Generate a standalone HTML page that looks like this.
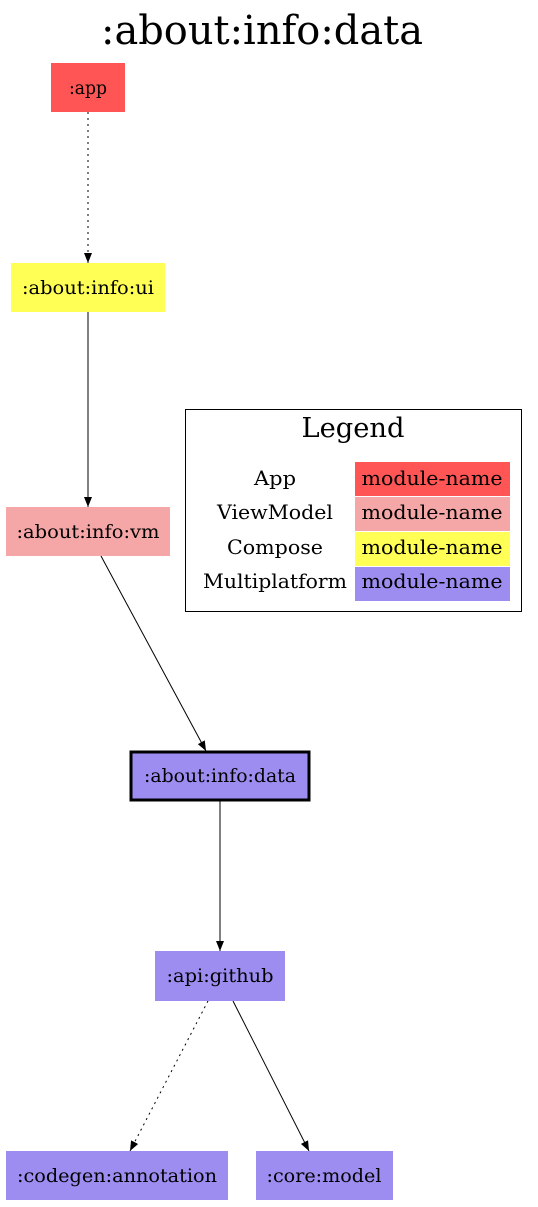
<!DOCTYPE html>
<html><head><meta charset="utf-8"><style>html,body{margin:0;padding:0;background:#fff}svg{display:block}</style></head>
<body>
<svg width="538" height="1207" viewBox="0 0 538 1207" xmlns="http://www.w3.org/2000/svg" font-family="DejaVu Serif, Liberation Serif, serif">
<defs><marker id="a" markerWidth="10" markerHeight="8" refX="10" refY="4" orient="auto" markerUnits="userSpaceOnUse"><path d="M0,0 L10,4 L0,8 z" fill="#000"/></marker></defs>
<text x="262" y="44" font-size="40" text-anchor="middle" textLength="322" lengthAdjust="spacingAndGlyphs">:about:info:data</text>

<line x1="88" y1="112" x2="88" y2="263" stroke="#000" stroke-dasharray="2,4" marker-end="url(#a)"/>
<line x1="88" y1="312" x2="88" y2="507" stroke="#000" marker-end="url(#a)"/>
<line x1="101" y1="556" x2="206" y2="751" stroke="#000" marker-end="url(#a)"/>
<line x1="220" y1="801" x2="220" y2="951" stroke="#000" marker-end="url(#a)"/>
<line x1="208" y1="1001" x2="130" y2="1151" stroke="#000" stroke-dasharray="2,4" marker-end="url(#a)"/>
<line x1="233" y1="1001" x2="309" y2="1151" stroke="#000" marker-end="url(#a)"/>

<g font-size="18.5" text-anchor="middle">
<rect x="51" y="63" width="74" height="49" fill="#FF5555"/><text x="88" y="94" textLength="38" lengthAdjust="spacingAndGlyphs">:app</text>
<rect x="11" y="263" width="154" height="49" fill="#FFFF55"/><text x="88" y="294" textLength="132" lengthAdjust="spacingAndGlyphs">:about:info:ui</text>
<rect x="6" y="507" width="164" height="49" fill="#F5A6A6"/><text x="88" y="538" textLength="143" lengthAdjust="spacingAndGlyphs">:about:info:vm</text>
<rect x="131" y="752" width="178" height="48" fill="#9D8DF1" stroke="#000" stroke-width="3"/><text x="220" y="782" textLength="152" lengthAdjust="spacingAndGlyphs">:about:info:data</text>
<rect x="155" y="951" width="130" height="50" fill="#9D8DF1"/><text x="220" y="982" textLength="107" lengthAdjust="spacingAndGlyphs">:api:github</text>
<rect x="6" y="1151" width="222" height="49" fill="#9D8DF1"/><text x="117" y="1182" textLength="200" lengthAdjust="spacingAndGlyphs">:codegen:annotation</text>
<rect x="256" y="1151" width="137" height="49" fill="#9D8DF1"/><text x="324" y="1182" textLength="115" lengthAdjust="spacingAndGlyphs">:core:model</text>
</g>

<rect x="185.5" y="409.5" width="336" height="202" fill="#fff" stroke="#000"/>
<text x="353" y="437" font-size="27" text-anchor="middle" textLength="103" lengthAdjust="spacingAndGlyphs">Legend</text>
<rect x="355" y="462" width="155" height="34" fill="#FF5555"/>
<rect x="355" y="497" width="155" height="34" fill="#F5A6A6"/>
<rect x="355" y="532" width="155" height="34" fill="#FFFF55"/>
<rect x="355" y="567" width="155" height="34" fill="#9D8DF1"/>
<g font-size="20" text-anchor="middle">
<text x="275" y="485" textLength="42" lengthAdjust="spacingAndGlyphs">App</text><text x="432" y="485" textLength="141" lengthAdjust="spacingAndGlyphs">module-name</text>
<text x="275" y="519" textLength="116" lengthAdjust="spacingAndGlyphs">ViewModel</text><text x="432" y="519" textLength="141" lengthAdjust="spacingAndGlyphs">module-name</text>
<text x="275" y="554" textLength="96" lengthAdjust="spacingAndGlyphs">Compose</text><text x="432" y="554" textLength="141" lengthAdjust="spacingAndGlyphs">module-name</text>
<text x="275" y="588" textLength="144" lengthAdjust="spacingAndGlyphs">Multiplatform</text><text x="432" y="588" textLength="141" lengthAdjust="spacingAndGlyphs">module-name</text>
</g>
</svg>
</body></html>
